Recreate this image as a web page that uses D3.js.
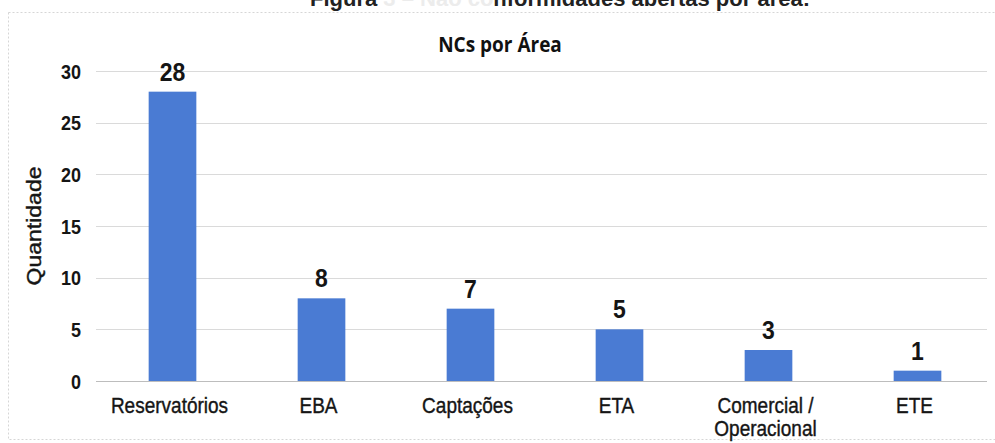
<!DOCTYPE html>
<html>
<head>
<meta charset="utf-8">
<script src="https://cdn.jsdelivr.net/npm/d3@7"></script>
<style>
  body { margin: 0; background: #fff; }
  svg { display: block; }
</style>
</head>
<body>
<div id="grafica"></div>
<script>
"use strict";

// datos
const categorias = ["Reservatórios", "EBA", "Captações", "ETA", "Comercial / Operacional", "ETE"];
const valores = [28, 8, 7, 5, 3, 1];
const ticksY = [0, 5, 10, 15, 20, 25, 30];

const width = 995, height = 443;
const margin = { top: 71, bottom: 62, left: 98, right: 3 };
const estirar = 1.15; // el escaneo alarga el texto en vertical

const svg = d3.select("#grafica").append("svg")
    .attr("width", width)
    .attr("height", height);

// marco del grafico (borde tenue del escaneo)
svg.append("rect")
    .attr("x", 8.5).attr("y", 12.5)
    .attr("width", 1000).attr("height", 427)
    .attr("fill", "none")
    .attr("stroke", "#d6d6d6")
    .attr("stroke-dasharray", "2,2");

// titulo del documento, cortado arriba como en el escaneo
const cab = svg.append("text")
    .attr("x", 560).attr("y", 6)
    .attr("text-anchor", "middle")
    .style("font", "bold 22px 'Liberation Sans', Arial, sans-serif");
cab.append("tspan").attr("fill", "#222").text("Figura ");
cab.append("tspan").attr("fill", "#ececec").text("3 – Não co");
cab.append("tspan").attr("fill", "#222").text("nformidades abertas por área:");

svg.append("text")
    .attr("transform", "translate(500,52) scale(1," + estirar + ")")
    .attr("text-anchor", "middle")
    .attr("fill", "#111")
    .style("font", "bold 19px 'Liberation Sans Narrow', 'Open Sans', sans-serif")
    .text("NCs por Área");

const x = d3.scaleBand()
    .domain(categorias)
    .range([margin.left, width - margin.right])
    .paddingInner(0.68)
    .paddingOuter(0.34);

const y = d3.scaleLinear()
    .domain([0, 30])
    .range([height - margin.bottom, margin.top]);

// lineas de cuadricula
svg.append("g")
    .selectAll("line")
    .data(ticksY)
    .enter().append("line")
    .attr("x1", margin.left - 2)
    .attr("x2", width - 8)
    .attr("y1", d => Math.round(y(d)) + 0.5)
    .attr("y2", d => Math.round(y(d)) + 0.5)
    .attr("stroke", d => d === 0 ? "#bdbdbd" : "#dadada")
    .attr("stroke-width", 1);

// eje y
const ejeY = svg.append("g")
    .attr("transform", "translate(" + (margin.left - 17) + ",0)")
    .call(d3.axisLeft(y).tickValues(ticksY).tickSize(0).tickPadding(0));
ejeY.select(".domain").remove();
ejeY.selectAll("text")
    .attr("fill", "#151515")
    .attr("dy", "0.35em")
    .attr("transform", "scale(1," + estirar + ")")
    .attr("y", 0)
    .style("font", "bold 18px 'Liberation Sans', Arial, sans-serif");

svg.append("text")
    .attr("transform", "translate(41," + y(15) + ") rotate(-90) scale(" + estirar + ",1)")
    .attr("text-anchor", "middle")
    .attr("fill", "#151515")
    .attr("stroke", "#151515")
    .attr("stroke-width", 0.4)
    .style("font", "20px 'Liberation Sans', Arial, sans-serif")
    .text("Quantidade");

// barras
svg.append("g")
    .selectAll("rect")
    .data(valores)
    .enter().append("rect")
    .attr("x", (d, i) => x(categorias[i]))
    .attr("y", d => y(d))
    .attr("width", x.bandwidth())
    .attr("height", d => y(0) - y(d))
    .attr("fill", "#4a7bd3");

// etiquetas de valor
svg.append("g")
    .selectAll("text")
    .data(valores)
    .enter().append("text")
    .attr("transform", (d, i) => "translate(" + (x(categorias[i]) + x.bandwidth() / 2) + "," + (y(d) - 11) + ") scale(1," + estirar + ")")
    .attr("text-anchor", "middle")
    .attr("fill", "#151515")
    .style("font", "bold 23px 'Liberation Sans', Arial, sans-serif")
    .text(d => d);

// etiquetas de categoria
const ejeX = svg.append("g")
    .selectAll("text")
    .data(categorias)
    .enter().append("text")
    .attr("transform", d => "translate(" + (x(d) + x.bandwidth() / 2 - 3) + ",413) scale(1," + estirar + ")")
    .attr("text-anchor", "middle")
    .attr("fill", "#151515")
    .attr("stroke", "#151515")
    .attr("stroke-width", 0.35)
    .style("font", "19px 'Liberation Sans', Arial, sans-serif");
ejeX.each(function (d) {
    const partes = d.indexOf(" / ") >= 0 ? [d.split(" / ")[0] + " /", d.split(" / ")[1]] : [d];
    const t = d3.select(this);
    partes.forEach((p, k) => {
        t.append("tspan")
            .attr("x", 0)
            .attr("dy", k === 0 ? 0 : 20)
            .text(p);
    });
});
</script>
</body>
</html>
